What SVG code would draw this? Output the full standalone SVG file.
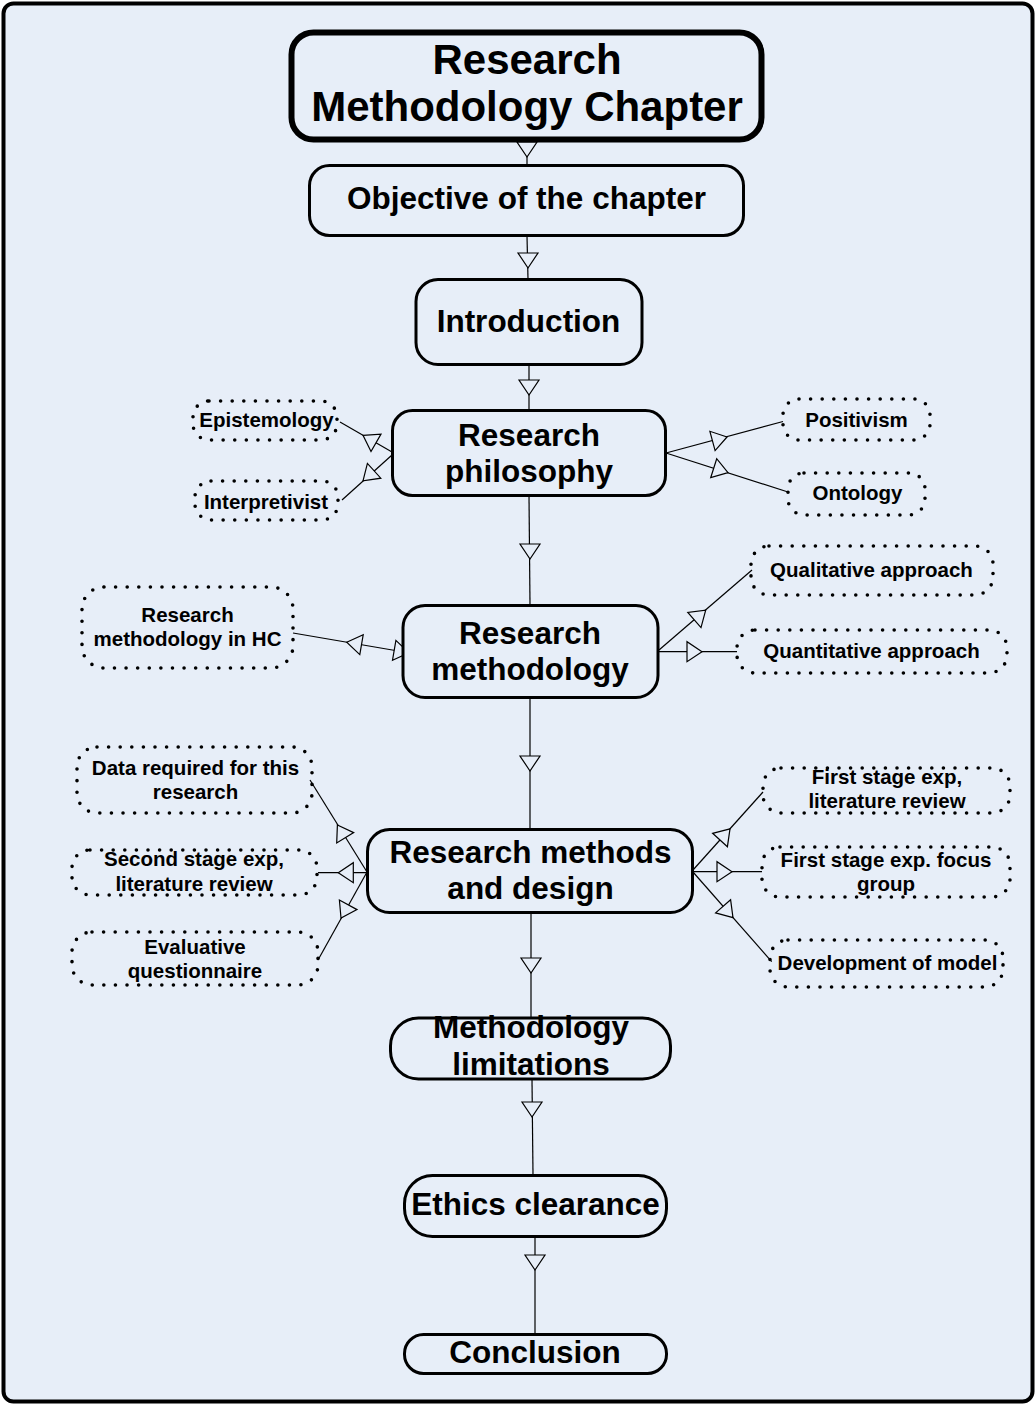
<svg xmlns="http://www.w3.org/2000/svg" width="1036" height="1405" viewBox="0 0 1036 1405">
  <style>
    .frame { fill: #E7EEF8; stroke: #000; stroke-width: 4; }
    .node { fill: #E7EEF8; stroke: #000; stroke-width: 3; }
    .title { fill: #E7EEF8; stroke: #000; stroke-width: 6; }
    .dot { fill: none; stroke: #000; stroke-width: 3.6; stroke-dasharray: 0 11.6; stroke-linecap: round; }
    .main { font-family: "Liberation Sans", Arial, sans-serif; font-weight: bold; font-size: 31.5px; text-anchor: middle; fill: #000; }
    .big { font-family: "Liberation Sans", Arial, sans-serif; font-weight: bold; font-size: 42px; text-anchor: middle; fill: #000; }
    .sub { font-family: "Liberation Sans", Arial, sans-serif; font-weight: bold; font-size: 20.5px; text-anchor: middle; fill: #000; }
    .link { fill: none; stroke: #000; stroke-width: 1.2; }
    .head { fill: #E7EEF8; stroke: #000; stroke-width: 1.2; stroke-linejoin: miter; }
  </style>

  <!-- page frame -->
  <rect class="frame" x="3.5" y="3.5" width="1029" height="1398" rx="10"/>

  <!-- connectors -->
  <g id="connectors">
    <!-- main flow -->
    <line class="link" x1="527" y1="140" x2="527" y2="165"/>
    <polygon class="head" points="517,142 537,142 527,157"/>
    <line class="link" x1="527" y1="236" x2="528" y2="279"/>
    <polygon class="head" points="518,253 538,253 528,268"/>
    <line class="link" x1="529" y1="365" x2="529" y2="410"/>
    <polygon class="head" points="519,380 539,380 529,395"/>
    <line class="link" x1="529" y1="496" x2="530" y2="605"/>
    <polygon class="head" points="520,544 540,544 530,559"/>
    <line class="link" x1="530" y1="698" x2="530" y2="829"/>
    <polygon class="head" points="520,756 540,756 530,771"/>
    <line class="link" x1="531" y1="913" x2="531" y2="1018"/>
    <polygon class="head" points="521,958 541,958 531,973"/>
    <line class="link" x1="532" y1="1080" x2="533" y2="1175"/>
    <polygon class="head" points="522,1102 542,1102 532,1117"/>
    <line class="link" x1="535" y1="1237" x2="535" y2="1334"/>
    <polygon class="head" points="525,1255 545,1255 535,1270"/>

    <!-- research philosophy branches -->
    <line class="link" x1="392" y1="452" x2="340" y2="422"/>
    <polygon class="head" points="363,435.3 381,434.1 371,451.5"/>
    <line class="link" x1="392" y1="455" x2="342" y2="500"/>
    <polygon class="head" points="363,480.8 367.4,463.4 380.8,478.2"/>
    <line class="link" x1="666" y1="453" x2="783" y2="421.5"/>
    <polygon class="head" points="727,437 715.1,450.6 709.9,431.3"/>
    <line class="link" x1="666" y1="453" x2="788" y2="492"/>
    <polygon class="head" points="728,472.7 710.7,477.7 716.7,458.7"/>

    <!-- research methodology branches -->
    <line class="link" x1="293" y1="633" x2="404" y2="652"/>
    <polygon class="head" points="346.7,642.2 363.2,634.8 359.8,654.6"/>
    <polygon class="head" points="409,652.8 392.5,660.2 395.9,640.4"/>
    <line class="link" x1="659" y1="650" x2="752" y2="570"/>
    <polygon class="head" points="705.7,610.2 701,627.6 687.8,612.4"/>
    <line class="link" x1="659" y1="651.7" x2="737" y2="651.7"/>
    <polygon class="head" points="702,651.7 687,641.7 687,661.7"/>

    <!-- research methods and design branches -->
    <line class="link" x1="367" y1="872" x2="310" y2="780"/>
    <polygon class="head" points="337.4,825 353.7,832.6 336.7,843"/>
    <line class="link" x1="367" y1="872.7" x2="318" y2="872.7"/>
    <polygon class="head" points="338.3,872.7 353.3,862.7 353.3,882.7"/>
    <line class="link" x1="367" y1="872" x2="318" y2="960"/>
    <polygon class="head" points="341,918 339.4,900 357,909.6"/>
    <line class="link" x1="693" y1="870" x2="763" y2="792"/>
    <polygon class="head" points="730,828.8 727.4,846.7 712.6,833.3"/>
    <line class="link" x1="693" y1="871.7" x2="762" y2="871.7"/>
    <polygon class="head" points="732,871.7 717,861.7 717,881.7"/>
    <line class="link" x1="693" y1="872" x2="771.7" y2="961.7"/>
    <polygon class="head" points="733,917.6 715.6,912.9 730.6,899.7"/>
  </g>

  <!-- main flow nodes -->
  <g id="chapter">
    <rect class="title" x="291.5" y="32.5" width="470" height="107" rx="22"/>
    <text class="big" x="527" y="74">Research</text>
    <text class="big" x="527" y="121">Methodology Chapter</text>
  </g>
  <g id="objective">
    <rect class="node" x="309.5" y="165.5" width="434" height="70" rx="20"/>
    <text class="main" x="526.5" y="208.5">Objective of the chapter</text>
  </g>
  <g id="introduction">
    <rect class="node" x="416" y="279.5" width="226" height="85" rx="22"/>
    <text class="main" x="528.5" y="332">Introduction</text>
  </g>
  <g id="philosophy">
    <rect class="node" x="392.5" y="410.5" width="273" height="85" rx="20"/>
    <text class="main" x="529" y="446">Research</text>
    <text class="main" x="529" y="482">philosophy</text>
  </g>
  <g id="methodology">
    <rect class="node" x="403" y="605.5" width="255" height="92" rx="22"/>
    <text class="main" x="530" y="644">Research</text>
    <text class="main" x="530" y="680">methodology</text>
  </g>
  <g id="methods">
    <rect class="node" x="367.5" y="829.5" width="325" height="83" rx="22"/>
    <text class="main" x="530.5" y="863">Research methods</text>
    <text class="main" x="530.5" y="899">and design</text>
  </g>
  <g id="limitations">
    <rect class="node" x="390.5" y="1018" width="280" height="61" rx="28"/>
    <text class="main" x="531" y="1038">Methodology</text>
    <text class="main" x="531" y="1075">limitations</text>
  </g>
  <g id="ethics">
    <rect class="node" x="404.5" y="1175.5" width="262" height="61" rx="28"/>
    <text class="main" x="535.5" y="1215">Ethics clearance</text>
  </g>
  <g id="conclusion">
    <rect class="node" x="404.5" y="1334.5" width="262" height="39" rx="19"/>
    <text class="main" x="535" y="1363">Conclusion</text>
  </g>

  <!-- philosophy topics -->
  <g id="epistemology">
    <rect class="dot" x="193" y="401" width="144" height="39" rx="16"/>
    <text class="sub" x="266.5" y="426.5">Epistemology</text>
  </g>
  <g id="interpretivist">
    <rect class="dot" x="195" y="481" width="143" height="39" rx="16"/>
    <text class="sub" x="266" y="508.5">Interpretivist</text>
  </g>
  <g id="positivism">
    <rect class="dot" x="783" y="399" width="147" height="41" rx="16"/>
    <text class="sub" x="856.5" y="427">Positivism</text>
  </g>
  <g id="ontology">
    <rect class="dot" x="788" y="473" width="137" height="42" rx="16"/>
    <text class="sub" x="857.5" y="500">Ontology</text>
  </g>

  <!-- methodology topics -->
  <g id="methodology-hc">
    <rect class="dot" x="82" y="587" width="211" height="81" rx="22"/>
    <text class="sub" x="187.5" y="622">Research</text>
    <text class="sub" x="187.5" y="646">methodology in HC</text>
  </g>
  <g id="qualitative">
    <rect class="dot" x="751" y="546" width="242" height="49" rx="18"/>
    <text class="sub" x="871.5" y="576.5">Qualitative approach</text>
  </g>
  <g id="quantitative">
    <rect class="dot" x="737" y="630" width="270" height="43" rx="18"/>
    <text class="sub" x="871.5" y="657.5">Quantitative approach</text>
  </g>

  <!-- methods and design topics -->
  <g id="data-required">
    <rect class="dot" x="77" y="747" width="235" height="66" rx="20"/>
    <text class="sub" x="195.5" y="774.5">Data required for this</text>
    <text class="sub" x="195.5" y="798.5">research</text>
  </g>
  <g id="second-stage">
    <rect class="dot" x="72" y="850" width="245" height="45" rx="18"/>
    <text class="sub" x="194" y="866">Second stage exp,</text>
    <text class="sub" x="194" y="891">literature review</text>
  </g>
  <g id="evaluative">
    <rect class="dot" x="72" y="932" width="246" height="53" rx="20"/>
    <text class="sub" x="195" y="953.5">Evaluative</text>
    <text class="sub" x="195" y="977.5">questionnaire</text>
  </g>
  <g id="first-stage-review">
    <rect class="dot" x="763" y="768" width="247" height="45" rx="18"/>
    <text class="sub" x="887" y="783.5">First stage exp,</text>
    <text class="sub" x="887" y="808">literature review</text>
  </g>
  <g id="focus-group">
    <rect class="dot" x="762" y="847" width="248" height="50" rx="18"/>
    <text class="sub" x="886" y="867">First stage exp. focus</text>
    <text class="sub" x="886" y="890.5">group</text>
  </g>
  <g id="model">
    <rect class="dot" x="770" y="940" width="233" height="47" rx="18"/>
    <text class="sub" x="887.5" y="969.5">Development of model</text>
  </g>
</svg>
